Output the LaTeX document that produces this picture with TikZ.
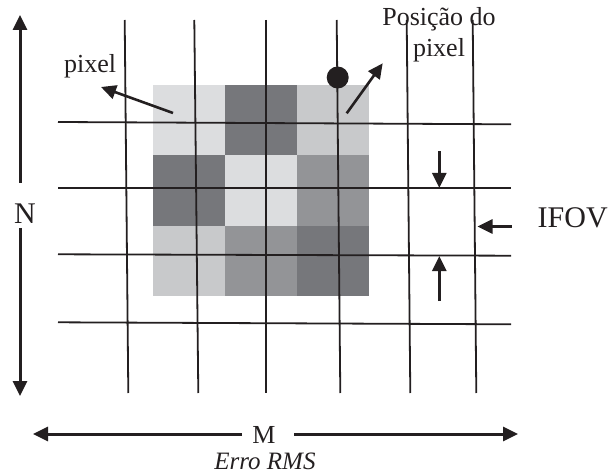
\documentclass[tikz,border=0pt]{standalone}
\usepackage{fontspec}
\setmainfont{Liberation Serif}
\usepackage{xcolor}
\usetikzlibrary{arrows.meta,calc}

\definecolor{cellA}{HTML}{DCDDDF}
\definecolor{cellB}{HTML}{C8C9CB}
\definecolor{cellC}{HTML}{939497}
\definecolor{cellD}{HTML}{76777B}
\definecolor{ink}{HTML}{231F20}

\begin{document}
\begin{tikzpicture}[
  x=1pt, y=-1pt,
  >={Triangle[length=15pt,width=14pt]},
  font=\fontsize{26}{31.5}\selectfont,
  gridline/.style={draw=ink, line width=1.8pt},
  axis/.style={draw=ink, line width=3pt, ->},
  pointer/.style={draw=ink, line width=2.6pt, ->},
  lbl/.style={inner sep=0pt, text=ink},
  big/.style={font=\fontsize{30}{35}\selectfont},
]
\useasboundingbox (0,0) rectangle (611,476);

% pixel values
\foreach \row/\list in {0/{cellA,cellD,cellB},1/{cellD,cellA,cellC},2/{cellB,cellC,cellD}}
  \foreach \c [count=\col from 0] in \list
    \fill[\c] ({153+72*\col},{85+70.3*\row}) rectangle ++(72,70.3);

% grid
\foreach \xt/\xb in {124.7/128.3, 194.3/198.3, 266.3/266.3, 336.7/340.3, 406.7/410.3, 472.7/476.3}
  \draw[gridline] (\xt,20) -- (\xb,393);
\foreach \yl/\yr in {122/124.3, 188.3/188.3, 254.3/255.7, 322.3/324.3}
  \draw[gridline] (58,\yl) -- (511,\yr);

\node[circle, fill=ink, minimum size=22pt, inner sep=0pt] (dot) at (337.7,77.5) {};

% labels
\node[lbl, anchor=base west] (pixlbl) at (64,73) {pixel};
\node[lbl, align=center, anchor=base] (poslbl) at (439,57) {Posição do\\pixel};
\node[lbl, big, anchor=base west] (ifov) at (537.5,228) {IFOV};
\node[lbl, big, anchor=base] (nlbl) at (25,223) {N};
\node[lbl, anchor=base] (mlbl) at (264,443) {M};
\node[lbl, anchor=base, font=\fontsize{25}{30}\selectfont] (erro) at (265,469.5) {\itshape Erro RMS};

% arrows
\coordinate (ptail) at (173,113);
\coordinate (phead) at (101,87);
\coordinate (qtail) at (346.7,113.3);
\coordinate (qhead) at (382.7,63.3);
\coordinate (dtail) at (439.3,151.5);
\coordinate (dhead) at (439.3,188);
\coordinate (utail) at (439.3,301);
\coordinate (uhead) at (439.3,256);
\coordinate (ltail) at (511.5,226.5);
\coordinate (lhead) at (477.5,226.5);
\coordinate (nhi) at (20,183);
\coordinate (ntop) at (20,15);
\coordinate (nlo) at (20,228);
\coordinate (nbot) at (20,396);
\coordinate (mle) at (242,434);
\coordinate (mleft) at (33,434);
\coordinate (mri) at (294,434);
\coordinate (mright) at (518,434);

\draw[pointer] (ptail) -- (phead);
\draw[pointer] (qtail) -- (qhead);
\draw[pointer] (dtail) -- (dhead);
\draw[pointer] (utail) -- (uhead);
\draw[pointer] (ltail) -- (lhead);
\draw[axis] (nhi) -- (ntop);
\draw[axis] (nlo) -- (nbot);
\draw[axis] (mle) -- (mleft);
\draw[axis] (mri) -- (mright);
\end{tikzpicture}
\end{document}
